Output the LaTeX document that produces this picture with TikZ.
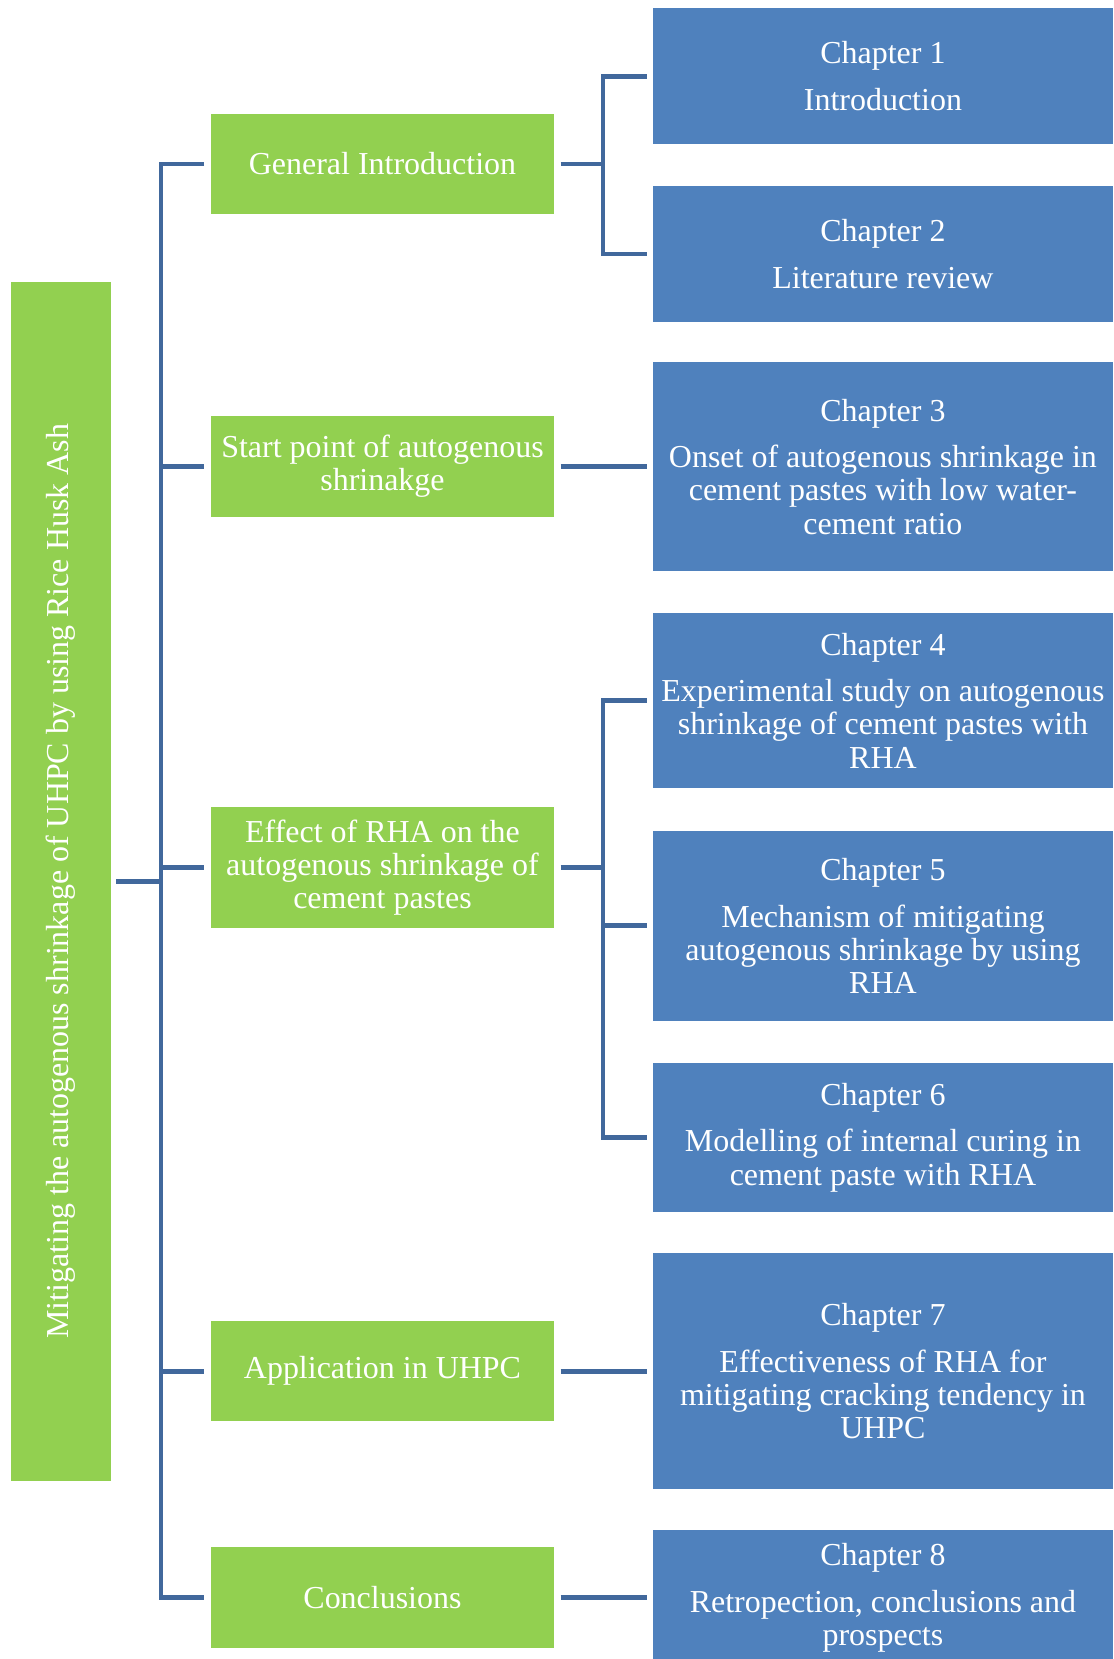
\documentclass[tikz,border=0pt]{standalone}
\usepackage{fontspec}
\setmainfont{Liberation Serif}
\definecolor{grn}{HTML}{92D050}
\definecolor{blu}{HTML}{4F81BD}
\definecolor{lnk}{HTML}{41689C}
\begin{document}
\begin{tikzpicture}[x=0.02cm,y=-0.02cm,font=\fontsize{17.2}{17.8}\selectfont,
	box/.style={fill=#1,text=white,align=center,inner sep=0pt,outer sep=0.12cm},
	sub/.style={box=grn,minimum width=6.5cm,minimum height=#1},
	chap/.style={box=blu,minimum width=8.7cm,minimum height=#1},
	link/.style={draw=lnk,line width=2.5pt}]
	\useasboundingbox (0,0) rectangle (1052,1568);
	\path
	(152,0) coordinate (t)
	(570,0) coordinate (b)
	;
	\node[box=grn,minimum width=1.9cm,minimum height=22.68cm,outer sep=0.1cm] (main) at (57.5,833) {\rotatebox{90}{Mitigating the autogenous shrinkage of UHPC by using Rice Husk Ash}};
	% parts
	\node[sub=1.9cm] (gi) at (361.5,155) {General Introduction};
	\node[sub=1.9cm] (sp) at (361.5,441) {Start point of autogenous\\shrinakge};
	\node[sub=2.3cm] (rha) at (361.5,820) {Effect of RHA on the\\autogenous shrinkage of\\cement pastes};
	\node[sub=1.9cm] (app) at (361.5,1296) {Application in UHPC};
	\node[sub=1.9cm] (conc) at (361.5,1510) {Conclusions};
	% chapters
	\node[chap=2.56cm] (c1) at (834.5,72) {Chapter 1\\[7.4pt]Introduction};
	\node[chap=2.56cm] (c2) at (834.5,240) {Chapter 2\\[7.4pt]Literature review};
	\node[chap=3.94cm] (c3) at (834.5,441) {Chapter 3\\[7.4pt]Onset of autogenous shrinkage in\\cement pastes with low water-\\cement ratio};
	\node[chap=3.32cm] (c4) at (834.5,662) {Chapter 4\\[7.4pt]Experimental study on autogenous\\shrinkage of cement pastes with\\RHA};
	\node[chap=3.6cm] (c5) at (834.5,875) {Chapter 5\\[7.4pt]Mechanism of mitigating\\autogenous shrinkage by using\\RHA};
	\node[chap=2.82cm] (c6) at (834.5,1075) {Chapter 6\\[7.4pt]Modelling of internal curing in\\cement paste with RHA};
	\node[chap=4.46cm] (c7) at (834.5,1296) {Chapter 7\\[7.4pt]Effectiveness of RHA for\\mitigating cracking tendency in\\UHPC};
	\node[chap=2.56cm] (c8) at (834.5,1510) {Chapter 8\\[7.4pt]Retropection, conclusions and\\prospects};
	% links
	\draw[link] (main.east)--(main.east-|t);
	\draw[link] (gi.west)-|(t|-conc.west)--(conc.west);
	\foreach \n in {sp,rha,app}\draw[link] (t|-\n.west)--(\n.west);
	\draw[link] (gi.east)--(gi.east-|b) (c1.west)-|(b|-c2.west)--(c2.west);
	\draw[link] (rha.east)--(rha.east-|b) (c4.west)-|(b|-c6.west)--(c6.west) (b|-c5.west)--(c5.west);
	\foreach \x/\y in {sp/c3,app/c7,conc/c8}\draw[link] (\x.east)--(\y.west);
\end{tikzpicture}
\end{document}
